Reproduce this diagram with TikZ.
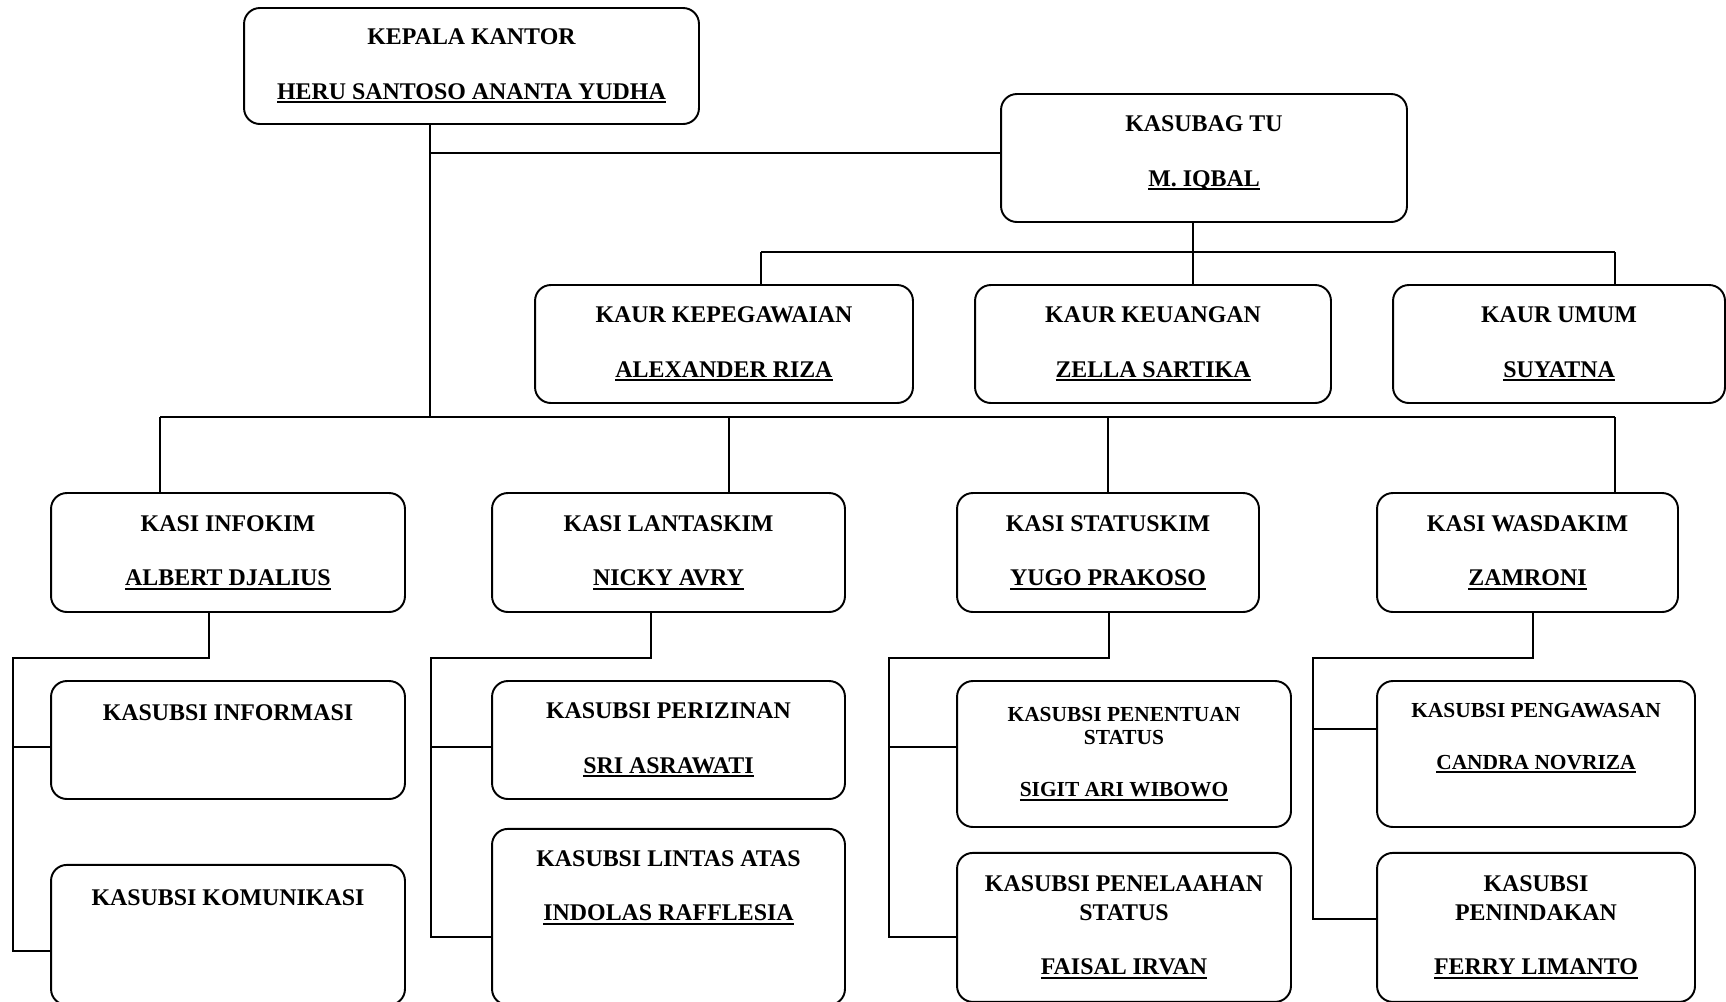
\documentclass[tikz,border=0pt]{standalone}
\usepackage{fontspec}
\setmainfont{Liberation Serif}
\usetikzlibrary{positioning}

\newcommand{\nameline}[1]{\setbox0\hbox{#1}\rlap{\rule[-2.4pt]{\wd0}{1.2pt}}\box0}

\begin{document}
\begin{tikzpicture}[x=0.02cm, y=-0.02cm, line width=1.1pt,
    unit/.style={draw, rectangle, rounded corners=9pt, align=center, inner sep=2pt,
      font=\fontsize{13.6}{16}\selectfont\bfseries},
    small/.style={font=\fontsize{12.2}{13.6}\selectfont\bfseries},
    link/.style={draw, line width=1.1pt}]
    \useasboundingbox (0,0) rectangle (1726,1001);

    % Nodes
    \node [unit, minimum width=9.1cm, minimum height=2.32cm] (kepala) at (471.5,66) {KEPALA KANTOR\\[15pt]\nameline{HERU SANTOSO ANANTA YUDHA}};

    \node [unit, minimum width=8.12cm, minimum height=2.56cm] (kasubag) at (1204,158) {KASUBAG TU\\[15pt]\nameline{M. IQBAL}\\[-8pt]\mbox{}};

    \node [unit, minimum width=7.56cm, minimum height=2.36cm] (kaurpeg) at (724,344) {KAUR KEPEGAWAIAN\\[15pt]\nameline{ALEXANDER RIZA}};
    \node [unit, minimum width=7.12cm, minimum height=2.36cm] (kaurkeu) at (1153,344) {KAUR KEUANGAN\\[15pt]\nameline{ZELLA SARTIKA}};
    \node [unit, minimum width=6.64cm, minimum height=2.36cm] (kaurumum) at (1559,344) {KAUR UMUM\\[15pt]\nameline{SUYATNA}};

    \node [unit, minimum width=7.08cm, minimum height=2.38cm] (infokim) at (228,552.5) {KASI INFOKIM\\[15pt]\nameline{ALBERT DJALIUS}};
    \node [unit, minimum width=7.06cm, minimum height=2.38cm] (lantaskim) at (668.5,552.5) {KASI LANTASKIM\\[15pt]\nameline{NICKY AVRY}};
    \node [unit, minimum width=6.04cm, minimum height=2.38cm] (statuskim) at (1108,552.5) {KASI STATUSKIM\\[15pt]\nameline{YUGO PRAKOSO}};
    \node [unit, minimum width=6.02cm, minimum height=2.38cm] (wasdakim) at (1527.5,552.5) {KASI WASDAKIM\\[15pt]\nameline{ZAMRONI}};

    \node [unit, minimum width=7.08cm, minimum height=2.36cm] (informasi) at (228,740) {KASUBSI INFORMASI\\[10pt]\strut};
    \node [unit, minimum width=7.08cm, minimum height=2.8cm, below=1.28cm of informasi] (komunikasi) {KASUBSI KOMUNIKASI\\[22pt]\strut};

    \node [unit, minimum width=7.06cm, minimum height=2.36cm] (perizinan) at (668.5,740) {KASUBSI PERIZINAN\\[15pt]\nameline{SRI ASRAWATI}};
    \node [unit, minimum width=7.06cm, minimum height=3.52cm, below=0.56cm of perizinan] (lintas) {KASUBSI LINTAS ATAS\\[15pt]\nameline{INDOLAS RAFFLESIA}\\[15pt]\strut};

    \node [unit, small, minimum width=6.68cm, minimum height=2.92cm] (penentuan) at (1124,754) {KASUBSI PENENTUAN\\STATUS\\[16pt]\nameline{SIGIT ARI WIBOWO}};
    \node [unit, minimum width=6.68cm, minimum height=2.98cm, below=0.48cm of penentuan] (penelaahan) {KASUBSI PENELAAHAN\\STATUS\\[15pt]\nameline{FAISAL IRVAN}};

    \node [unit, small, minimum width=6.36cm, minimum height=2.92cm] (pengawasan) at (1536,754) {KASUBSI PENGAWASAN\\[16pt]\nameline{CANDRA NOVRIZA}\\[2.7pt]\strut};
    \node [unit, minimum width=6.36cm, minimum height=2.98cm, below=0.48cm of pengawasan] (penindakan) {KASUBSI\\PENINDAKAN\\[15pt]\nameline{FERRY LIMANTO}};

    % Bus points
    \coordinate (trunk) at (430,417);
    \coordinate (busL) at (160,417);
    \coordinate (busM) at (729,417);
    \coordinate (busR) at (1615,417);
    \coordinate (tuL) at (761,252);
    \coordinate (tuM) at (1193,252);
    \coordinate (tuR) at (1615,252);
    \coordinate (inf1) at (209,658);
    \coordinate (inf2) at (13,658);
    \coordinate (lan1) at (651,658);
    \coordinate (lan2) at (431,658);
    \coordinate (sta1) at (1109,658);
    \coordinate (sta2) at (889,658);
    \coordinate (was1) at (1533,658);
    \coordinate (was2) at (1313,658);

    % Paths
    \draw[link] (kepala.south -| trunk) -- (trunk);
    \draw[link] (trunk |- kasubag.west) ++(0,-5) -- ([yshift=0.1cm]kasubag.west);

    \draw[link] (tuL) -- (tuR);
    \draw[link] (kasubag.south -| tuM) -- (tuM) -- (tuM |- kaurkeu.north);
    \draw[link] (tuL) -- (tuL |- kaurpeg.north);
    \draw[link] (tuR) -- (tuR |- kaurumum.north);

    \draw[link] (busL) -- (busR);
    \draw[link] (busL) -- (busL |- infokim.north);
    \draw[link] (busM) -- (busM |- lantaskim.north);
    \draw[link] (statuskim.north |- busL) -- (statuskim.north);
    \draw[link] (busR) -- (busR |- wasdakim.north);

    \draw[link] (infokim.south -| inf1) -- (inf1) -- (inf2) |- ([yshift=-0.14cm]informasi.west);
    \draw[link] (inf2) |- ([yshift=-0.32cm]komunikasi.west);

    \draw[link] (lantaskim.south -| lan1) -- (lan1) -- (lan2) |- ([yshift=-0.14cm]perizinan.west);
    \draw[link] (lan2) |- ([yshift=-0.4cm]lintas.west);

    \draw[link] (statuskim.south -| sta1) -- (sta1) -- (sta2) |- ([yshift=0.14cm]penentuan.west);
    \draw[link] (sta2) |- ([yshift=-0.19cm]penelaahan.west);

    \draw[link] (wasdakim.south -| was1) -- (was1) -- (was2) |- ([yshift=0.5cm]pengawasan.west);
    \draw[link] (was2) |- ([yshift=0.17cm]penindakan.west);
\end{tikzpicture}
\end{document}
